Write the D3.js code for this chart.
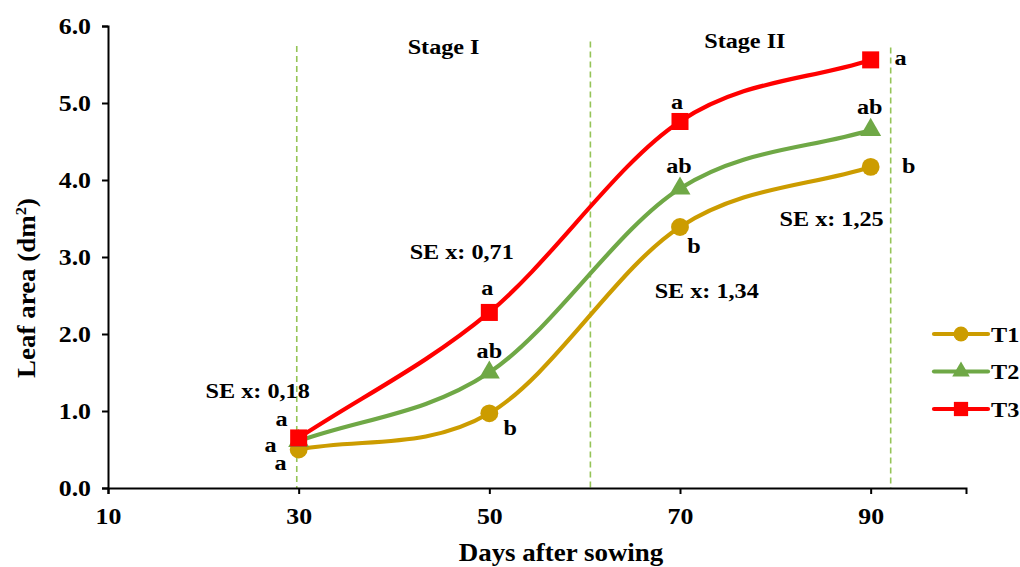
<!DOCTYPE html>
<html>
<head>
<meta charset="utf-8">
<script src="https://cdn.jsdelivr.net/npm/d3@7"></script>
<style>
  html, body { margin: 0; padding: 0; background: #fff; }
  svg { display: block; font-family: "Liberation Serif", "Times New Roman", serif; font-weight: bold; }
</style>
</head>
<body>
<svg id="chart" width="1020" height="567"></svg>
<script>
// Leaf area (dm²) measured at each sampling date
const days = [30, 50, 70, 90];
const t1 = [0.50, 0.97, 3.39, 4.17];
const t2 = [0.61, 1.50, 3.89, 4.65];
const t3 = [0.65, 2.28, 4.76, 5.56];
const seriesNames = ["T1", "T2", "T3"];

// Mean-separation letters per treatment and date
const t1Letters = ["a", "b", "b", "b"];
const t2Letters = ["a", "ab", "ab", "ab"];
const t3Letters = ["a", "a", "a", "a"];

// Standard-error notes and stage labels
const seNotes = ["SE x: 0,18", "SE x: 0,71", "SE x: 1,34", "SE x: 1,25"];
const stageNames = ["Stage I", "Stage II"];
const stageBounds = [29.8, 60.6, 92.1];

const xTicks = [10, 30, 50, 70, 90];
const yTicks = [0, 1, 2, 3, 4, 5, 6];

// ---- layout ----
const x = d3.scaleLinear().domain([10, 100]).range([108, 966]);
const y = d3.scaleLinear().domain([0, 6]).range([488, 26]);

const colors = { T1: "#CC9C00", T2: "#6FA846", T3: "#FF0000" };
const guideColor = "#95C457";
const SX = 1.1;          // horizontal stretch of the bold serif type
const FS = 22;           // body text size
const TFS = 23.5;        // tick label size

// label offsets (px) from each point: [dx, dy]
const letterOffsets = {
  T1: [[-18, 20], [21, 22], [14, 26], [38, 6]],
  T2: [[-28, 11], [0, -15], [-1, -15], [-1, -16]],
  T3: [[-17, -12], [-2, -17], [-3, -12], [30, 5]]
};
// positions of notes in data units
const sePos = [[25.7, 1.17], [47.1, 2.97], [72.8, 2.47], [85.9, 3.40]];
const stagePos = [[45.2, 5.64], [76.8, 5.71]];
const guideTops = [5.74, 5.8, 5.72];

const svg = d3.select("#chart");

function placeText(sel, fx, fy) {
  return sel.attr("transform", (d, i) => `translate(${fx(d, i)},${fy(d, i)}) scale(${SX},1)`);
}

// stage boundary guides
svg.append("g").selectAll("line").data(stageBounds).join("line")
  .attr("x1", d => x(d)).attr("x2", d => x(d))
  .attr("y1", (d, i) => y(guideTops[i])).attr("y2", y(0))
  .attr("stroke", guideColor).attr("stroke-width", 1.6)
  .attr("stroke-dasharray", "6,4");

// axes
const yAxis = d3.axisLeft(y).tickValues(yTicks).tickFormat(d3.format(".1f")).tickSizeOuter(0).tickSize(6).tickPadding(11);
const xAxis = d3.axisBottom(x).tickValues(xTicks).tickSizeOuter(0).tickSize(6).tickPadding(13);

const gy = svg.append("g").attr("transform", `translate(${x(10)},0)`).call(yAxis);
const gx = svg.append("g").attr("transform", `translate(0,${y(0)})`).call(xAxis);
[gx, gy].forEach(g => {
  g.select(".domain").attr("stroke", "#000").attr("stroke-width", 2);
  g.selectAll(".tick line").attr("stroke", "#000").attr("stroke-width", 2);
  g.selectAll(".tick text").attr("fill", "#000")
    .attr("transform", `scale(${SX},1)`)
    .style("font-family", "'Liberation Serif', 'Times New Roman', serif")
    .style("font-weight", "bold").style("font-size", TFS + "px");
});
gy.selectAll(".tick text").attr("x", -17 / SX);

// axis titles
svg.append("text")
  .attr("transform", `translate(561,561) scale(${SX},1)`).attr("text-anchor", "middle")
  .style("font-size", "24.5px").text("Days after sowing");
const yTitle = svg.append("text")
  .attr("transform", `translate(35,288) rotate(-90) scale(${SX},1)`)
  .attr("text-anchor", "middle").style("font-size", "24.5px");
yTitle.append("tspan").text("Leaf area (dm");
yTitle.append("tspan").attr("dy", -9).style("font-size", "15px").text("2");
yTitle.append("tspan").attr("dy", 9).text(")");

// Smoothed line: cubic Bézier segments with tangents (P[i+1]-P[i-1])/6,
// the ends using a reflected phantom point.
function smoothPath(pts) {
  const p = pts.map(d => [x(d[0]), y(d[1])]);
  const n = p.length;
  const at = i => {
    if (i < 0) return [2 * p[0][0] - p[1][0], 2 * p[0][1] - p[1][1]];
    if (i >= n) return [2 * p[n - 1][0] - p[n - 2][0], 2 * p[n - 1][1] - p[n - 2][1]];
    return p[i];
  };
  const path = d3.path();
  path.moveTo(p[0][0], p[0][1]);
  for (let i = 0; i < n - 1; i++) {
    const a = at(i - 1), b = at(i), c = at(i + 1), e = at(i + 2);
    path.bezierCurveTo(
      b[0] + (c[0] - a[0]) / 6, b[1] + (c[1] - a[1]) / 6,
      c[0] - (e[0] - b[0]) / 6, c[1] - (e[1] - b[1]) / 6,
      c[0], c[1]);
  }
  return path.toString();
}

// series
const seriesData = [
  { name: "T1", values: t1, letters: t1Letters, shape: d3.symbolCircle, size: 250 },
  { name: "T2", values: t2, letters: t2Letters, shape: d3.symbolTriangle, size: 190 },
  { name: "T3", values: t3, letters: t3Letters, shape: d3.symbolSquare, size: 290 }
];

seriesData.forEach(s => {
  const pts = days.map((d, i) => [d, s.values[i]]);
  const g = svg.append("g");
  g.append("path").attr("d", smoothPath(pts))
    .attr("fill", "none").attr("stroke", colors[s.name]).attr("stroke-width", 4.2)
    .attr("stroke-linecap", "round");
  g.selectAll("path.marker").data(pts).join("path").attr("class", "marker")
    .attr("transform", d => `translate(${x(d[0])},${y(d[1])})`)
    .attr("d", d3.symbol().type(s.shape).size(s.size))
    .attr("fill", colors[s.name]);
});

// letters
seriesData.forEach(s => {
  const t = svg.append("g").selectAll("text").data(days).join("text")
    .attr("text-anchor", "middle").style("font-size", FS + "px")
    .text((d, i) => s.letters[i]);
  placeText(t,
    (d, i) => x(d) + letterOffsets[s.name][i][0],
    (d, i) => y(s.values[i]) + letterOffsets[s.name][i][1]);
});

// SE notes
placeText(
  svg.append("g").selectAll("text").data(seNotes).join("text")
    .attr("text-anchor", "middle").style("font-size", FS + "px").text(d => d),
  (d, i) => x(sePos[i][0]), (d, i) => y(sePos[i][1]));

// stage labels
placeText(
  svg.append("g").selectAll("text").data(stageNames).join("text")
    .attr("text-anchor", "middle").style("font-size", FS + "px").text(d => d),
  (d, i) => x(stagePos[i][0]), (d, i) => y(stagePos[i][1]));

// legend
const legend = svg.append("g").attr("transform", "translate(934,334)");
seriesData.forEach((s, i) => {
  const row = legend.append("g").attr("transform", `translate(0,${i * 37.5})`);
  row.append("line").attr("x1", 0).attr("x2", 54)
    .attr("stroke", colors[s.name]).attr("stroke-width", 4.2).attr("stroke-linecap", "round");
  row.append("path").attr("transform", "translate(27,0)")
    .attr("d", d3.symbol().type(s.shape).size(s.size * 0.7))
    .attr("fill", colors[s.name]);
  row.append("text").attr("transform", `translate(57,7.5) scale(${SX},1)`)
    .style("font-size", FS + "px").text(s.name);
});
</script>
</body>
</html>
